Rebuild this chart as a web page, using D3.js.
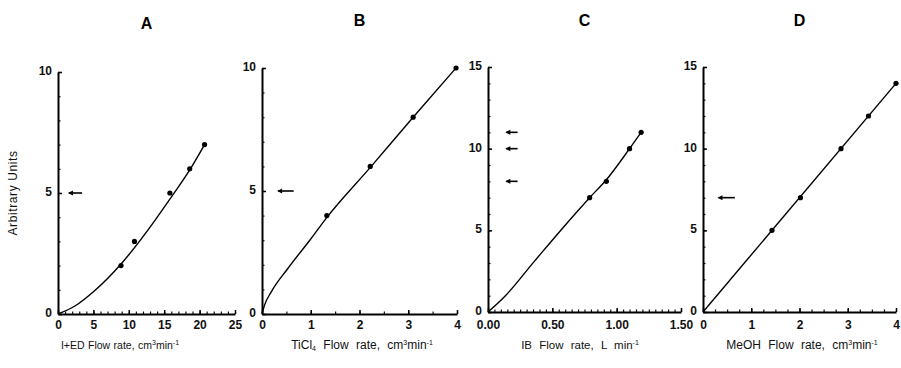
<!DOCTYPE html>
<html><head><meta charset="utf-8">
<script src="https://cdn.jsdelivr.net/npm/d3@7"></script>
<style>
body{margin:0;background:#fff;}
svg{display:block;font-family:"Liberation Sans",Arial,sans-serif;}
</style></head>
<body>
<svg id="chart" width="901" height="368"></svg>
<script>
// ---- data ----
const panelTitles = ["A", "B", "C", "D"];
const xDomains = [[0, 25], [0, 4], [0, 1.5], [0, 4]];
const yDomains = [[0, 10], [0, 10], [0, 15], [0, 15]];
const xTickValues = [[0, 5, 10, 15, 20, 25], [0, 1, 2, 3, 4], [0, 0.5, 1.0, 1.5], [0, 1, 2, 3, 4]];
const xTickFormats = ["d", "d", ".2f", "d"];
const yTickValues = [[0, 5, 10], [0, 5, 10], [0, 5, 10, 15], [0, 5, 10, 15]];
const xMinorStep = [1, 0.5, 0.05, 0.25];
const yMinorStep = [1, 1, 1, 1];
const xLabelMain = ["I+ED Flow rate, cm", "TiCl", "IB Flow rate, L min", "MeOH Flow rate, cm"];
const yLabel = "Arbitrary Units";

// measured points
const pointsAx = [8.9, 10.8, 15.8, 18.6, 20.7];
const pointsAy = [2, 3, 5, 6, 7];
const pointsBx = [1.33, 2.22, 3.1, 3.98];
const pointsBy = [4, 6, 8, 10];
const pointsCx = [0.79, 0.92, 1.1, 1.19];
const pointsCy = [7, 8, 10, 11];
const pointsDx = [1.43, 2.02, 2.86, 3.43, 4.0];
const pointsDy = [5, 7, 10, 12, 14];

// fitted curves
const curveAx = [0, 2.4, 5.2, 9.0, 13.7, 16.0, 18.5, 20.8];
const curveAy = [0, 0.33, 0.97, 2.1, 3.87, 4.83, 5.9, 7.05];
const curveBx = [0, 0.05, 0.19, 0.53, 1.0, 1.32, 2.24, 3.1, 3.98];
const curveBy = [0, 0.35, 0.9, 1.85, 3.05, 3.9, 6.0, 8.0, 10.0];
const curveCx = [0, 0.13, 0.36, 0.62, 0.79, 0.92, 1.1, 1.19];
const curveCy = [0, 0.95, 3.1, 5.5, 7.0, 8.1, 10.0, 11.0];
const curveDx = [0, 4.0];
const curveDy = [0, 14.0];

// arrows (data units): y level and x extent
const arrowsY = [[5], [5], [11, 10, 8], [7]];
const arrowsX = [[1.4, 3.4], [0.31, 0.65], [0.135, 0.23], [0.3, 0.66]];

// ---- layout (pixels) ----
const plotX = [[58, 235], [262, 457], [488, 681], [703, 896]];
const plotY = [[314, 72], [314, 68], [312, 67], [312, 67]];
const titleY = [23, 20, 20, 20];
const labelCX = [120, 362, 580, 802];
const labelW = [117, 145, 124, 152];
const labelFont = [10.5, 12, 11.5, 12];

const svg = d3.select("#chart");
const zip = (a, b) => a.map((v, i) => [v, b[i]]);
const pts = [zip(pointsAx, pointsAy), zip(pointsBx, pointsBy), zip(pointsCx, pointsCy), zip(pointsDx, pointsDy)];
const curves = [zip(curveAx, curveAy), zip(curveBx, curveBy), zip(curveCx, curveCy), zip(curveDx, curveDy)];

panelTitles.forEach((t, i) => {
  const x = d3.scaleLinear().domain(xDomains[i]).range(plotX[i]);
  const y = d3.scaleLinear().domain(yDomains[i]).range(plotY[i]);
  const g = svg.append("g");

  // minor ticks
  const xm = d3.range(xDomains[i][0], xDomains[i][1] + 1e-9, xMinorStep[i]);
  const ym = d3.range(yDomains[i][0], yDomains[i][1] + 1e-9, yMinorStep[i]);
  g.append("g").attr("transform", `translate(0,${plotY[i][0]})`)
    .call(d3.axisBottom(x).tickValues(xm).tickSize(-2.5).tickFormat(""))
    .call(a => a.select(".domain").remove())
    .selectAll("line").attr("stroke", "#111").attr("stroke-width", 1.2);
  g.append("g").attr("transform", `translate(${plotX[i][0]},0)`)
    .call(d3.axisLeft(y).tickValues(ym).tickSize(-2.5).tickFormat(""))
    .call(a => a.select(".domain").remove())
    .selectAll("line").attr("stroke", "#111").attr("stroke-width", 1.2);

  // major axes
  const xa = g.append("g").attr("transform", `translate(0,${plotY[i][0]})`)
    .call(d3.axisBottom(x).tickValues(xTickValues[i]).tickFormat(d3.format(xTickFormats[i]))
      .tickSize(-4).tickSizeOuter(0).tickPadding(314 - plotY[i][0] + 6));
  const ya = g.append("g").attr("transform", `translate(${plotX[i][0]},0)`)
    .call(d3.axisLeft(y).tickValues(yTickValues[i]).tickFormat(d3.format("d"))
      .tickSize(-4).tickSizeOuter(0).tickPadding(6));
  [xa, ya].forEach(a => {
    a.select(".domain").attr("stroke", "#000").attr("stroke-width", 2);
    a.selectAll("line").attr("stroke", "#000").attr("stroke-width", 1.5);
    a.selectAll("text").attr("font-size", 12).attr("font-weight", "bold").attr("fill", "#111")
      .attr("font-family", "'Liberation Sans',Arial,sans-serif");
  });
  ya.selectAll("text").attr("dy", "0.22em");

  // curve
  g.append("path").datum(curves[i])
    .attr("fill", "none").attr("stroke", "#000").attr("stroke-width", 1.4)
    .attr("d", d3.line().x(d => x(d[0])).y(d => y(d[1])).curve(d3.curveMonotoneX));

  // points
  g.selectAll("circle.pt").data(pts[i]).join("circle")
    .attr("cx", d => x(d[0])).attr("cy", d => y(d[1])).attr("r", 2.6).attr("fill", "#000");

  // arrows
  arrowsY[i].forEach(av => {
    const x0 = x(arrowsX[i][0]), x1 = x(arrowsX[i][1]), yy = y(av);
    g.append("line").attr("x1", x0 + 1).attr("x2", x1).attr("y1", yy).attr("y2", yy)
      .attr("stroke", "#000").attr("stroke-width", 1.6);
    g.append("path").attr("d", `M${x0},${yy} L${x0 + 5},${yy - 2.5} L${x0 + 5},${yy + 2.5} Z`).attr("fill", "#000");
  });

  // title
  svg.append("text").attr("x", d3.mean(plotX[i])).attr("y", titleY[i])
    .attr("text-anchor", "middle").attr("dominant-baseline", "central")
    .attr("font-size", 16).attr("font-weight", "bold").text(t);

  // x label
  const lab = svg.append("text").attr("x", labelCX[i]).attr("y", 349)
    .attr("text-anchor", "middle").attr("font-size", labelFont[i]).attr("fill", "#111");
  if (i === 1) {
    lab.append("tspan").text("TiCl");
    lab.append("tspan").attr("font-size", 7).attr("dy", 2).text("4");
    lab.append("tspan").attr("dy", -2).text(" Flow rate, cm");
  } else {
    lab.append("tspan").text(xLabelMain[i]);
  }
  if (i === 2) {
    lab.append("tspan").attr("font-size", 7).attr("dy", -4).text("-1");
  } else {
    lab.append("tspan").attr("font-size", 7).attr("dy", -4).text("3");
    lab.append("tspan").attr("dy", 4).text("min");
    lab.append("tspan").attr("font-size", 7).attr("dy", -4).text("-1");
  }
  // slightly widen word gaps, as in the reference
  const natural = lab.node().getComputedTextLength();
  const gaps = (lab.text().match(/ /g) || []).length;
  const ws = Math.min(4, Math.max(0.5, (labelW[i] - natural) / gaps));
  lab.attr("word-spacing", ws.toFixed(2));
});

// y label
svg.append("text").attr("transform", "translate(17,193) rotate(-90)")
  .attr("text-anchor", "middle").attr("font-size", 12).attr("fill", "#111")
  .attr("letter-spacing", 0.6).text(yLabel);
</script>
</body></html>
